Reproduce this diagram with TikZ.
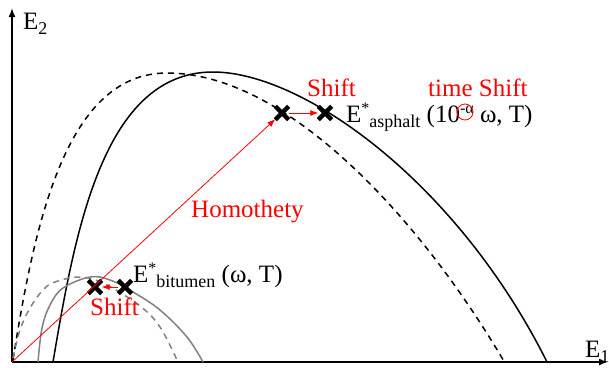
\documentclass[tikz,border=0pt]{standalone}
\usepackage{fontspec}
\setmainfont{Liberation Serif}
\usepackage{tikz}
\usetikzlibrary{arrows.meta,shapes.misc}
\newcommand{\lowtxt}[1]{\raisebox{-5pt}{\fontsize{18}{20}\selectfont #1}}
\newcommand{\hightxt}[1]{\raisebox{9pt}{\fontsize{16}{18}\selectfont #1}}

\begin{document}
\begin{tikzpicture}[x=1pt,y=-1pt,
      lbl/.style={anchor=base west,inner sep=0pt,font=\fontsize{25}{29}\selectfont},
      redlbl/.style={lbl,text=red},
      ptcross/.style={cross out,draw,line width=4.4pt,minimum size=9pt,inner sep=0pt},
      axarr/.style={-{Latex[length=9pt,width=7pt]},line width=1.6pt},
      redarr/.style={-{Latex[length=8pt,width=6pt]},red,line width=0.8pt},
      curve/.style={line width=1.5pt},
      dcurve/.style={curve,dash pattern=on 6pt off 5pt}
    ]
    \useasboundingbox (0,0) rectangle (609,367);
    % axes
    \coordinate (O) at (12,362);
    \coordinate (yend) at (12,8);
    \coordinate (xend) at (608,362);
    \draw[axarr] (O) -- (yend);
    \draw[axarr] (O) -- (xend);
    \node[lbl] (e2) at (23,29) {E\lowtxt{2}};
    \node[lbl] (e1) at (585,357) {E\lowtxt{1}};
    % asphalt curves
    \draw[curve] (53,362) .. controls (75,232) and (103,72) .. (213,72)
                          .. controls (303,72) and (457,182) .. (547,362);
    \draw[dcurve] (13,360) .. controls (35,220) and (67,73) .. (167,73)
                           .. controls (287,73) and (420,218) .. (505,363);
    % bitumen curves
    \draw[curve,gray] plot[smooth,tension=0.6] coordinates {(38,362) (42,328) (50,305) (63,288) (90,277) (110,280) (133,292) (160,310) (187,337) (203,362)};
    \draw[dcurve,gray] plot[smooth,tension=0.6] coordinates {(13,358) (20,330) (30,308) (43,290) (55,282) (80,277) (105,284) (140,306) (160,327) (177,360)};
    % points
    \node[ptcross] (bitL) at (95,287) {};
    \node[ptcross] (bitR) at (125,287) {};
    \node[ptcross] (aspL) at (282,113) {};
    \node[ptcross] (aspR) at (325,113) {};
    \draw[redarr] (O) -- (aspL);
    \draw[redarr] (bitR) -- (bitL);
    \draw[redarr] (aspL) -- (aspR);
    % labels
    \node[lbl] (bitlbl) at (133,282) {E\hightxt{*}\lowtxt{bitumen} (ω, T)};
    \node[lbl] (asplbl) at (346,122) {E\hightxt{*}\lowtxt{asphalt} (10\hightxt{-α} ω, T)};
    \node[redlbl] (shiftbit) at (90,315) {Shift};
    \node[redlbl] (shiftasp) at (307,96) {Shift};
    \node[redlbl] (timeshift) at (428,96) {time Shift};
    \node[redlbl] (homo) at (191,217) {Homothety};
    \node[circle,draw=red,line width=0.8pt,minimum size=16pt,inner sep=0pt] (alphaRing) at (465,112) {};
  \end{tikzpicture}
\end{document}
